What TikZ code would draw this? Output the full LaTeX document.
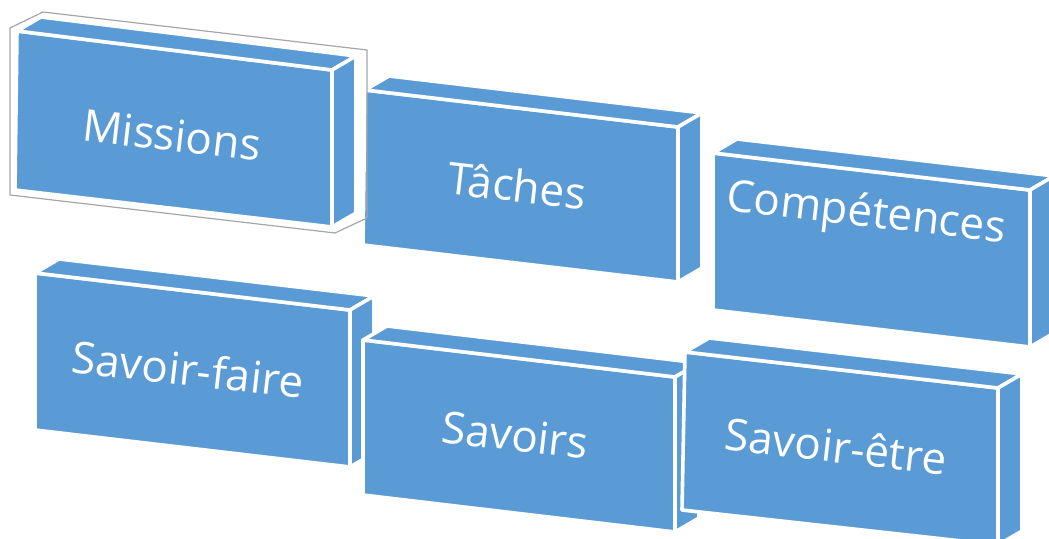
\documentclass[tikz,border=0pt]{standalone}
\usepackage{fontspec}
\setmainfont{Open Sans}
\usetikzlibrary{calc}
\definecolor{boxblue}{HTML}{5B9BD5}

% one slab: name, top-left, top-right, bottom-right, bottom-left of the front face
\newcommand{\slab}[5]{%
  \coordinate (#1-tl) at #2;
  \coordinate (#1-tr) at #3;
  \coordinate (#1-br) at #4;
  \coordinate (#1-bl) at #5;
  \draw[face] (#1-tl) -- (#1-tr) -- (#1-br) -- (#1-bl) -- cycle;
  \draw[face] (#1-tl) -- ($(#1-tl)+(24,-14)$) -- ($(#1-tr)+(24,-14)$) -- (#1-tr) -- cycle;
  \draw[face] (#1-tr) -- ($(#1-tr)+(24,-14)$) -- ($(#1-br)+(24,-14)$) -- (#1-br) -- cycle;
}

\begin{document}
\begin{tikzpicture}[
  x=0.5pt, y=-0.5pt,
  face/.style={fill=boxblue, draw=white, line width=1.8pt, line join=round},
  lbl/.style={text=white, font=\fontsize{22}{26}\selectfont, rotate=-6.5, inner sep=0pt},
  selbox/.style={draw=gray!70, line width=0.6pt}
]
\useasboundingbox (0,0) rectangle (1049,539);

% top row
\slab{mis}{(17,31)}{(332,70)}{(332,227)}{(15,190)}
\slab{tac}{(365,90)}{(678,127)}{(678,282)}{(363,245)}
\slab{com}{(713,153)}{(1030,190)}{(1030,347)}{(713,310)}

% bottom row
\slab{sf}{(35,273)}{(350,310)}{(350,467)}{(35,430)}
\slab{sav}{(363,340)}{(675,377)}{(675,532)}{(363,495)}
\slab{se}{(685,352)}{(998,388)}{(998,545)}{(682,510)}

\node[lbl] (missions) at (172,135) {Missions};
\node[lbl] (taches) at (517,185) {Tâches};
\node[lbl] (competences) at (866,215) {Compétences};
\node[lbl] (savoirfaire) at (188,369) {Savoir-faire};
\node[lbl] (savoirs) at (515,435) {Savoirs};
\node[lbl] (savoiretre) at (836,446) {Savoir-être};

% selection frame round the first slab
\draw[selbox] (10,28) -- (43,12) -- (367,50) -- (367,218) -- (335,233) -- (10,195) -- cycle;
\end{tikzpicture}
\end{document}
